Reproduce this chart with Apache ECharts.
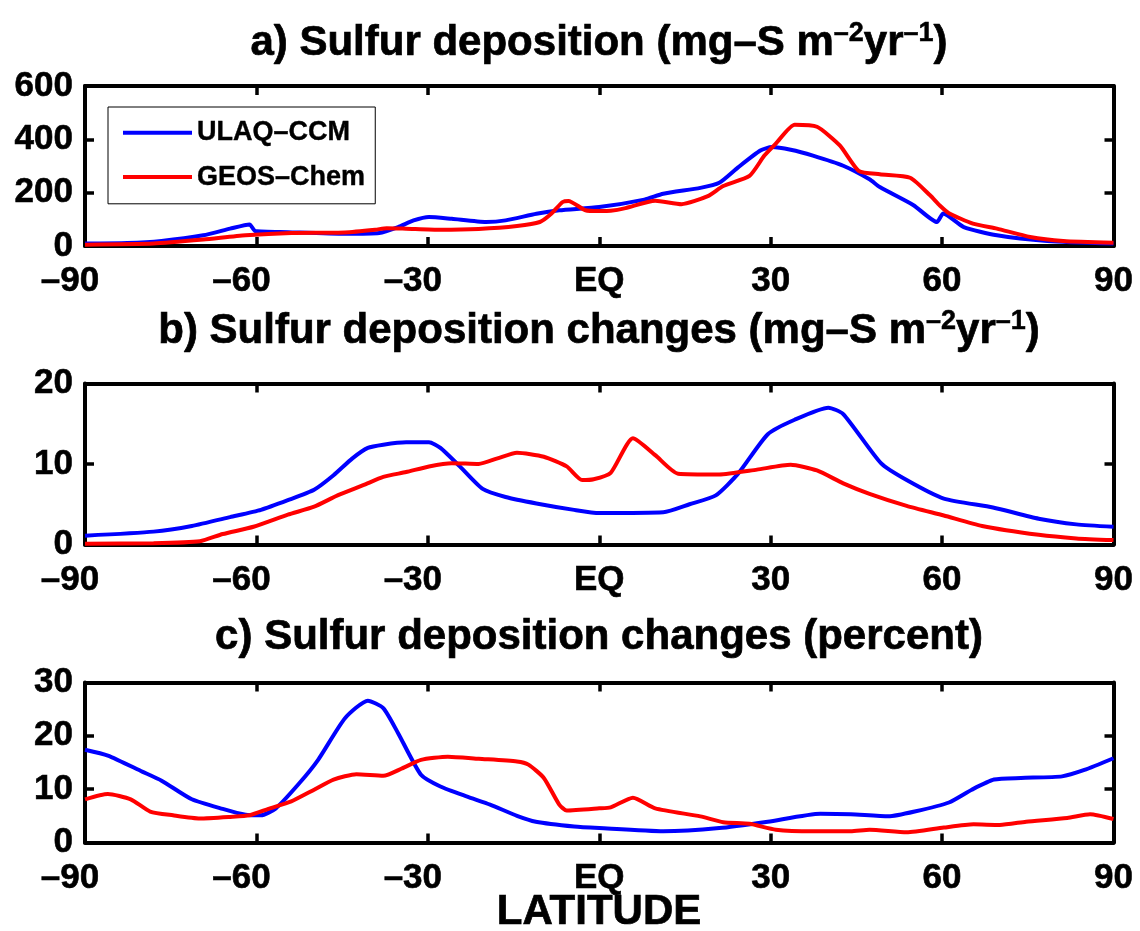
<!DOCTYPE html>
<html><head><meta charset="utf-8">
<script src="https://cdn.jsdelivr.net/npm/echarts@6/dist/echarts.min.js"></script>
<style>html,body{margin:0;padding:0;background:#fff}#c{width:1140px;height:931px}</style>
</head><body><div id="c"></div>
<script>
// ---- tick labels ----
const xTicks = [-90, -60, -30, 0, 30, 60, 90];
const xTickLabels = ['–90', '–60', '–30', 'EQ', '30', '60', '90'];
const seriesNames = ['ULAQ–CCM', 'GEOS–Chem'];

// ---- panel a: sulfur deposition (mg-S m-2 yr-1) ----
const latA_ulaq = [-90,-82.6,-76.6,-69.3,-64.6,-61.2,-60.2,-54.5,-44.5,-38.5,-35.2,-32.5,-29.8,-25.8,-19.8,-16.4,-11,-7,0,7.9,11.2,17.7,21,24.3,28.2,30.2,33.5,37.4,42.7,47.3,49.1,55,59.1,60.2,63.8,69.6,78.4,90];
const valA_ulaq = [9,11,19,40,65,81,56,52,46,49,71,96,109,102,90,96,121,134,146,174,196,218,237,295,358,371,361,339,301,250,221,153,90,122,71,40,19,9];
const latA_geos = [-90,-78,-69.3,-61.9,-53.9,-44.5,-39.2,-37.2,-33.8,-27.8,-21.1,-14.4,-10.4,-8.4,-6.4,-5.4,-2.4,0,2,4.6,9.8,14.4,19,21.7,26.3,28.9,30.9,34.2,38.1,42.1,45.4,49.1,54.4,57.9,59.6,61.2,65.4,69.6,75.4,81.2,90];
const valA_geos = [5,9,24,40,49,51,61,67,65,61,64,75,90,121,165,169,134,131,132,142,170,157,187,225,263,339,384,455,447,377,282,269,256,190,152,123,84,65,34,19,12];

// ---- panel b: sulfur deposition changes (mg-S m-2 yr-1) ----
const latB_ulaq = [-90,-78,-71.3,-64.6,-59.2,-54.5,-49.9,-46.5,-43.2,-40.5,-37.8,-33.8,-29.8,-27.8,-24.4,-20.4,-16.4,-11,-4.4,0,11.2,15.8,20.4,24.3,29.5,34.2,40.1,42.7,49.3,53.8,60.3,68.9,76.9,83.5,90];
const valB_ulaq = [1.1,1.6,2.3,3.4,4.3,5.5,6.8,8.6,10.7,12.0,12.4,12.7,12.7,12.0,9.7,6.9,5.9,5.1,4.3,3.9,4.0,5.0,6.1,8.8,13.7,15.5,17.0,16.2,10.1,8.0,5.7,4.6,3.2,2.5,2.2];
const latB_geos = [-90,-78,-69.9,-65.9,-60.5,-54.5,-49.9,-45.8,-41.2,-37.8,-33.8,-29.8,-25.8,-21.1,-17.8,-14.4,-9.7,-5.7,-3,-1,2,5.9,9.8,13.8,21,27.6,33.5,38.1,42.7,47.3,53.8,60.3,67,76.9,83.5,90];
const valB_geos = [0.1,0.15,0.4,1.3,2.2,3.7,4.7,6.1,7.4,8.4,9.0,9.7,10.1,10.0,10.7,11.4,10.9,9.7,8.0,8.1,8.9,13.2,11.1,8.8,8.7,9.3,9.9,9.2,7.6,6.3,4.8,3.6,2.3,1.2,0.76,0.55];

// ---- panel c: sulfur deposition changes (percent) ----
const latC_ulaq = [-90,-86,-80,-76.6,-71.3,-65.9,-61.9,-59.2,-56.6,-52.5,-49.2,-44.5,-40.5,-37.8,-35.2,-31.2,-27.8,-23.1,-19.1,-14.4,-11.1,-4.4,0,11.2,21,29.5,38.7,44,50.6,55.2,61.2,65.2,69.1,73.8,81,84.9,90];
const valC_ulaq = [17.4,16.3,13.3,11.6,8.1,6.3,5.2,5.1,6.4,11.1,15.5,23.3,26.6,25.2,20.5,12.7,10.5,8.6,7.1,5.0,3.9,3.0,2.7,2.1,2.7,3.9,5.4,5.3,4.9,5.8,7.5,9.9,11.8,12.1,12.4,13.6,15.8];
const latC_geos = [-90,-86,-82,-78.6,-74.6,-69.9,-64.6,-61.2,-57.9,-53.9,-49.9,-46.5,-42.5,-37.8,-34.5,-31.2,-26.5,-21.1,-14.4,-12.4,-9.7,-7,-5.7,0,2,5.9,9.8,17.7,21.7,26.3,30.9,37.4,44,47.3,53.8,60.3,65.5,70.1,74.7,81.9,85.9,90];
const valC_geos = [8.1,9.1,8.1,5.8,5.1,4.5,4.8,5.1,6.3,7.7,9.9,11.8,12.8,12.5,13.9,15.5,16.1,15.7,15.2,14.6,12.1,7.1,6.0,6.4,6.6,8.4,6.4,4.9,3.8,3.5,2.4,2.1,2.1,2.4,1.9,2.8,3.4,3.3,3.9,4.6,5.3,4.4];

const yMax = [600, 20, 30];
const yInterval = [200, 10, 10];

const FONT = "'Liberation Sans', Arial, Helvetica, sans-serif";
const pair = (lat, val) => lat.map((l, i) => [l, val[i]]);
const panels = [
  [pair(latA_ulaq, valA_ulaq), pair(latA_geos, valA_geos)],
  [pair(latB_ulaq, valB_ulaq), pair(latB_geos, valB_geos)],
  [pair(latC_ulaq, valC_ulaq), pair(latC_geos, valC_geos)]
];
const grids = [
  {left: 85, right: 26.5, top: 86, height: 160},
  {left: 85, right: 26.5, top: 383.5, height: 161},
  {left: 85, right: 26.5, top: 682.5, height: 160}
];
const colors = ['#0000ff', '#ff0000'];

const lab = {color: '#000', fontFamily: FONT, fontWeight: 'bold', fontSize: 35,
  textBorderColor: '#000', textBorderWidth: 0.6};
const xAxes = [], yAxes = [], series = [];
grids.forEach((g, i) => {
  const line = {show: true, onZero: false, lineStyle: {color: '#000', width: 4}};
  const tick = {show: true, inside: true, length: 9, lineStyle: {color: '#000', width: 3.5}};
  xAxes.push({type: 'value', gridIndex: i, min: -90, max: 90, interval: 30, position: 'bottom',
    axisLine: line, axisTick: tick, splitLine: {show: false},
    axisLabel: Object.assign({margin: 18, showMinLabel: true, showMaxLabel: true,
      formatter: v => { const k = xTicks.indexOf(v); const t = xTickLabels[k];
        return v < 0 ? '{n|' + t + '}' : t; },
      rich: {n: Object.assign({padding: [0, 30, 0, 0]}, lab)}}, lab)});
  xAxes.push({type: 'value', gridIndex: i, min: -90, max: 90, interval: 30, position: 'top',
    axisLine: line, axisTick: tick, splitLine: {show: false}, axisLabel: {show: false}});
  yAxes.push({type: 'value', gridIndex: i, min: 0, max: yMax[i], interval: yInterval[i], position: 'left',
    axisLine: line, axisTick: tick, splitLine: {show: false},
    axisLabel: Object.assign({margin: 12, showMinLabel: true, showMaxLabel: true}, lab)});
  yAxes.push({type: 'value', gridIndex: i, min: 0, max: yMax[i], interval: yInterval[i], position: 'right',
    axisLine: line, axisTick: tick, splitLine: {show: false}, axisLabel: {show: false}});
  panels[i].forEach((d, j) => {
    series.push({type: 'line', name: seriesNames[j], xAxisIndex: 2 * i, yAxisIndex: 2 * i,
      data: d, showSymbol: false, symbol: 'none', smooth: 0.2, z: 3 + j,
      lineStyle: {color: colors[j], width: 4}, itemStyle: {color: colors[j]}});
  });
});

const mainStyle = {fontSize: 42, fontWeight: 'bold', fontFamily: FONT, fill: '#000', lineHeight: 46,
  stroke: '#000', lineWidth: 0.7};
const supStyle = {fontSize: 27, fontWeight: 'bold', fontFamily: FONT, fill: '#000', lineHeight: 27,
  verticalAlign: 'top', stroke: '#000', lineWidth: 0.5};
function titleText(txt, y) {
  return {type: 'text', x: 599, y: y, z: 10,
    style: {text: txt, align: 'center', verticalAlign: 'middle', fill: '#000',
      fontSize: 42, fontWeight: 'bold', fontFamily: FONT, lineHeight: 46,
      rich: {m: mainStyle, s: supStyle}}};
}

const option = {
  animation: false,
  backgroundColor: '#fff',
  grid: grids,
  xAxis: xAxes,
  yAxis: yAxes,
  series: series,
  legend: {
    data: seriesNames, orient: 'vertical', left: 108, top: 107,
    backgroundColor: '#fff', borderColor: '#000', borderWidth: 1, borderRadius: 0,
    padding: [12, 10, 13, 15], itemGap: 17, itemWidth: 69, itemHeight: 4, icon: 'rect',
    textStyle: {color: '#000', fontFamily: FONT, fontWeight: 'bold', fontSize: 27,
      textBorderColor: '#000', textBorderWidth: 0.4},
    selectedMode: false
  },
  graphic: [
    titleText('{m|a) Sulfur deposition (mg–S m}{s|–2}{m|yr}{s|–1}{m|)}', 43),
    titleText('{m|b) Sulfur deposition changes (mg–S m}{s|–2}{m|yr}{s|–1}{m|)}', 331),
    titleText('{m|c) Sulfur deposition changes (percent)}', 637),
    titleText('{m|LATITUDE}', 912)
  ]
};
const chart = echarts.init(document.getElementById('c'), null, {renderer: 'canvas'});
chart.setOption(option);
</script></body></html>
